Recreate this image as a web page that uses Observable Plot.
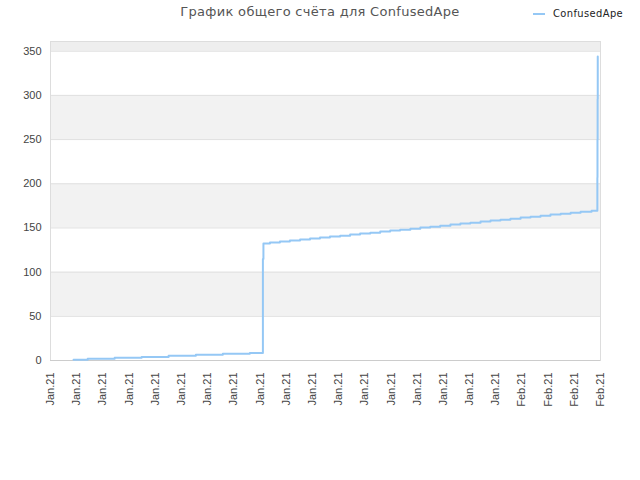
<!DOCTYPE html>
<html>
<head>
<meta charset="utf-8">
<script src="https://cdn.jsdelivr.net/npm/d3@7"></script>
<script src="https://cdn.jsdelivr.net/npm/@observablehq/plot@0.6"></script>
<style>
  body { margin: 0; background: #fff; }
  #wrap { position: relative; width: 640px; height: 480px; }
  #title { position: absolute; left: 0; width: 640px; top: 4px; text-align: center;
           font-family: "DejaVu Sans", sans-serif; font-size: 13px; color: #555; letter-spacing: 0.3px; }
  #legend { position: absolute; left: 533px; top: 7px; font-family: "DejaVu Sans Condensed", "DejaVu Sans", sans-serif;
            font-size: 11px; letter-spacing: 0.4px; color: #222; display: flex; align-items: center; }
  #legend .sw { width: 12px; height: 2px; background: #95c8f5; margin-right: 8px; }
  #chart { position: absolute; left: 0; top: 0; }
</style>
</head>
<body>
<div id="wrap">
  <div id="chart"></div>
  <div id="title">График общего счёта для ConfusedApe</div>
  <div id="legend"><span class="sw"></span><span>ConfusedApe</span></div>
</div>
<script>
// Tick labels (one per x tick position)
const tickLabels = ["Jan.21","Jan.21","Jan.21","Jan.21","Jan.21","Jan.21","Jan.21","Jan.21","Jan.21","Jan.21","Jan.21",
  "Jan.21","Jan.21","Jan.21","Jan.21","Jan.21","Jan.21","Jan.21","Feb.21","Feb.21","Feb.21","Feb.21"];
const tickPos = [0,1,2,3,4,5,6,7,8,9,10,11,12,13,14,15,16,17,18,19,20,21];

// Series: x position (in tick units) and total score
const xPos = [0.88, 1.42, 2.45, 3.48, 4.51, 5.55, 6.58, 7.61, 8.11, 8.13,
  8.38, 8.76, 9.14, 9.53, 9.91, 10.29, 10.67, 11.06, 11.44, 11.82, 12.21, 12.59, 12.97, 13.35,
  13.74, 14.12, 14.50, 14.88, 15.27, 15.65, 16.03, 16.42, 16.80, 17.18, 17.56, 17.95, 18.33,
  18.71, 19.09, 19.48, 19.86, 20.24, 20.66, 20.88, 20.885, 20.89, 20.895];
const score = [0.8, 1.9, 3.0, 4.1, 5.3, 6.4, 7.5, 8.6, 115, 132.3,
  133.4, 134.6, 135.7, 136.8, 138.0, 139.1, 140.2, 141.3, 142.5, 143.6, 144.7, 145.9, 147.0, 148.1,
  149.2, 150.4, 151.5, 152.6, 153.8, 154.9, 156.0, 157.2, 158.3, 159.4, 160.5, 161.7, 162.8,
  163.9, 165.1, 166.2, 167.3, 168.4, 169.6, 207, 250, 296, 344];

const yTicks = [0, 50, 100, 150, 200, 250, 300, 350];
const bandLo = [50, 150, 250, 350];
const bandHi = [100, 200, 300, 361];

const data = xPos.map((x, i) => ({x, y: score[i]}));
const bands = bandLo.map((lo, i) => ({lo, hi: bandHi[i]}));

const chart = Plot.plot({
  width: 640,
  height: 480,
  marginLeft: 50,
  marginRight: 40,
  marginTop: 41,
  marginBottom: 120,
  style: {fontFamily: "'Liberation Sans', Arial, sans-serif", fontSize: "11px", color: "#444"},
  x: {domain: [0, 21]},
  y: {domain: [0, 361]},
  marks: [
    Plot.rect(bands, {x1: 0, x2: 21, y1: "lo", y2: "hi", fill: (d) => d.lo === 350 ? "#eeeeee" : "#f2f2f2"}),
    Plot.ruleY(yTicks.slice(1), {stroke: "#e0e0e0", strokeWidth: 1}),
    Plot.frame({stroke: "#dddddd"}),
    Plot.ruleY([0], {stroke: "#cccccc"}),
    Plot.axisY({ticks: yTicks, tickSize: 0, tickPadding: 9, fontSize: 11, label: null, tickFormat: d => d}),
    Plot.axisX({ticks: tickPos, tickSize: 0, tickPadding: 12, tickRotate: -90, fontSize: 11, label: null,
      tickFormat: (d) => tickLabels[d]}),
    Plot.line(data, {x: "x", y: "y", curve: "step-after", stroke: "#95c8f5", strokeWidth: 2})
  ]
});
document.getElementById("chart").appendChild(chart);
</script>
</body>
</html>
